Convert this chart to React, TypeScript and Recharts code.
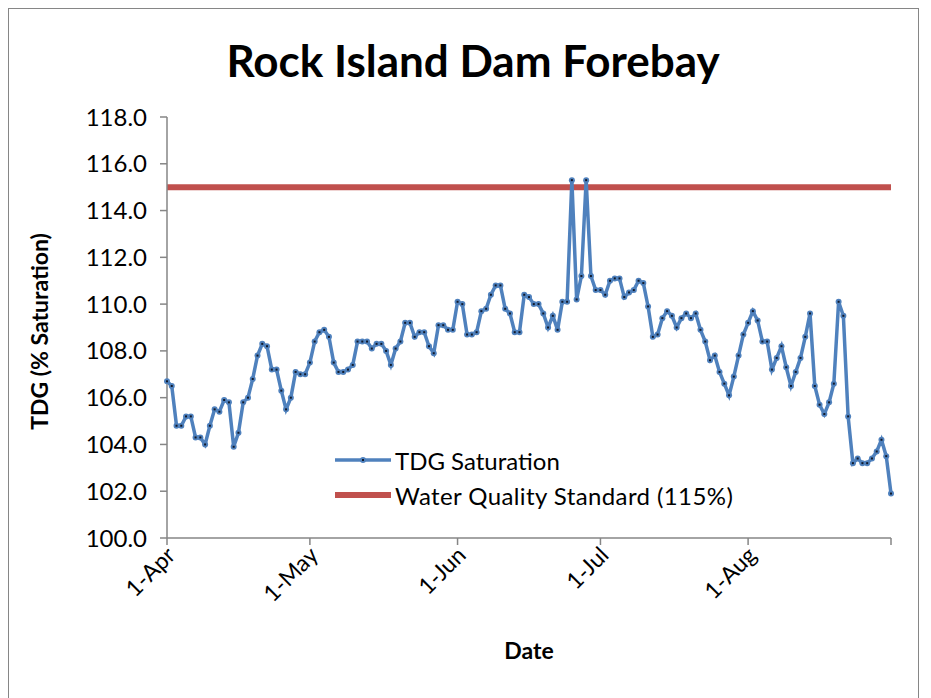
import { LineChart, Line, XAxis, YAxis, Label } from "recharts";

const FONT = "Lato, 'Open Sans', sans-serif";
const BLUE = "#4F81BD";
const RED = "#C0504D";
const AXIS_GREY = "#868686";

// daily TDG saturation (%), one value per day
const aprTdg = [106.7, 106.5, 104.8, 104.8, 105.2, 105.2, 104.3, 104.3, 104.0, 104.8, 105.5, 105.4, 105.9, 105.8, 103.9, 104.5, 105.8, 106.0, 106.8, 107.8, 108.3, 108.2, 107.2, 107.2, 106.3, 105.5, 106.0, 107.1, 107.0, 107.0];
const mayTdg = [107.5, 108.4, 108.8, 108.9, 108.6, 107.5, 107.1, 107.1, 107.2, 107.4, 108.4, 108.4, 108.4, 108.1, 108.3, 108.3, 108.0, 107.4, 108.1, 108.4, 109.2, 109.2, 108.6, 108.8, 108.8, 108.2, 107.9, 109.1, 109.1, 108.9, 108.9];
const junTdg = [110.1, 110.0, 108.7, 108.7, 108.8, 109.7, 109.8, 110.4, 110.8, 110.8, 109.8, 109.6, 108.8, 108.8, 110.4, 110.3, 110.0, 110.0, 109.6, 109.0, 109.5, 108.9, 110.1, 110.1, 115.3, 110.2, 111.2, 115.3, 111.2, 110.6];
const julTdg = [110.6, 110.4, 111.0, 111.1, 111.1, 110.3, 110.5, 110.6, 111.0, 110.9, 109.9, 108.6, 108.7, 109.4, 109.7, 109.5, 109.0, 109.4, 109.6, 109.4, 109.6, 108.9, 108.4, 107.6, 107.8, 107.1, 106.6, 106.1, 106.9, 107.8, 108.7];
const augTdg = [109.2, 109.7, 109.3, 108.4, 108.4, 107.2, 107.7, 108.2, 107.3, 106.5, 107.1, 107.7, 108.6, 109.6, 106.5, 105.7, 105.3, 105.8, 106.6, 110.1, 109.5, 105.2, 103.2, 103.4, 103.2, 103.2, 103.4, 103.7, 104.2, 103.5, 101.9];

const STANDARD = 115;

// day offsets from 1-Apr for the month ticks
const monthTicks = [0, 30, 61, 91, 122, 152];
const monthLabels = ["1-Apr", "1-May", "1-Jun", "1-Jul", "1-Aug", ""];
const yTicks = [100, 102, 104, 106, 108, 110, 112, 114, 116, 118];

const data = [...aprTdg, ...mayTdg, ...junTdg, ...julTdg, ...augTdg].map((v, i) => ({
  day: i,
  tdg: v,
  standard: STANDARD,
}));

function DateTick(props: any) {
  const { x, y, payload } = props;
  const label = monthLabels[monthTicks.indexOf(payload.value)] ?? "";
  return (
    <text
      transform={`translate(${x + 4},${y + 4}) rotate(-45)`}
      textAnchor="end"
      dy="0.35em"
      fontSize={23}
      fontFamily={FONT}
      fill="#000"
    >
      {label}
    </text>
  );
}

function Marker(props: any) {
  const { cx, cy, index } = props;
  if (cx == null || cy == null) return <g key={index} />;
  return (
    <g key={index}>
      <circle cx={cx} cy={cy} r={3} fill={BLUE} />
      <rect x={cx - 1} y={cy - 1} width={2} height={2} fill="#10192b" />
    </g>
  );
}

function LegendOverlay() {
  const row = { position: "absolute" as const, left: 326, display: "flex", alignItems: "center", height: 30 };
  return (
    <>
      <div style={{ ...row, top: 436 }}>
        <svg width={56} height={30}>
          <line x1={0} y1={15} x2={56} y2={15} stroke={BLUE} strokeWidth={3.5} />
          <circle cx={28} cy={15} r={3} fill={BLUE} />
          <rect x={27} y={14} width={2} height={2} fill="#10192b" />
        </svg>
        <span style={{ marginLeft: 4, fontSize: 24, fontFamily: FONT }}>TDG Saturation</span>
      </div>
      <div style={{ ...row, top: 471 }}>
        <svg width={56} height={30}>
          <line x1={0} y1={15} x2={56} y2={15} stroke={RED} strokeWidth={6} />
        </svg>
        <span style={{ marginLeft: 4, fontSize: 24, fontFamily: FONT, letterSpacing: 0.4 }}>
          Water Quality Standard (115%)
        </span>
      </div>
    </>
  );
}

export default function App() {
  return (
    <div
      style={{
        position: "relative",
        width: 909,
        height: 700,
        border: `1px solid ${AXIS_GREY}`,
        background: "#fff",
        fontFamily: FONT,
        color: "#000",
      }}
    >
      <div
        style={{
          position: "absolute",
          left: 164,
          width: 600,
          top: 29,
          textAlign: "center",
          fontSize: 44,
          lineHeight: 1,
          fontWeight: 700,
        }}
      >
        Rock Island Dam Forebay
      </div>
      <LineChart width={900} height={690} data={data} margin={{ top: 108, right: 18, bottom: 0, left: 0 }}>
        <XAxis
          dataKey="day"
          type="number"
          domain={[0, 152]}
          ticks={monthTicks}
          interval={0}
          tick={<DateTick />}
          tickSize={7}
          stroke={AXIS_GREY}
          strokeWidth={1.5}
          height={161}
        >
          <Label
            content={({ viewBox }: any) => (
              <text
                x={viewBox.x + viewBox.width / 2}
                y={642}
                textAnchor="middle"
                dy="0.35em"
                fontSize={23}
                fontWeight={700}
                fontFamily={FONT}
                fill="#000"
              >
                Date
              </text>
            )}
          />
        </XAxis>
        <YAxis
          domain={[100, 118]}
          ticks={yTicks}
          interval={0}
          tickFormatter={(v: number) => v.toFixed(1)}
          tick={{ fontSize: 24, fill: "#000", fontFamily: FONT }}
          tickSize={7}
          tickMargin={13}
          stroke={AXIS_GREY}
          strokeWidth={1.5}
          width={158}
        >
          <Label
            content={({ viewBox }: any) => {
              const cx = 31;
              const cy = viewBox.y + viewBox.height / 2 + 4;
              return (
                <text
                  x={cx}
                  y={cy}
                  transform={`rotate(-90 ${cx} ${cy})`}
                  textAnchor="middle"
                  dy="0.35em"
                  fontSize={23}
                  fontWeight={700}
                  fontFamily={FONT}
                  fill="#000"
                >
                  TDG (% Saturation)
                </text>
              );
            }}
          />
        </YAxis>
        <Line
          dataKey="standard"
          stroke={RED}
          strokeWidth={6}
          dot={false}
          isAnimationActive={false}
        />
        <Line
          dataKey="tdg"
          stroke={BLUE}
          strokeWidth={3.5}
          dot={<Marker />}
          isAnimationActive={false}
        />
      </LineChart>
      <LegendOverlay />
    </div>
  );
}
